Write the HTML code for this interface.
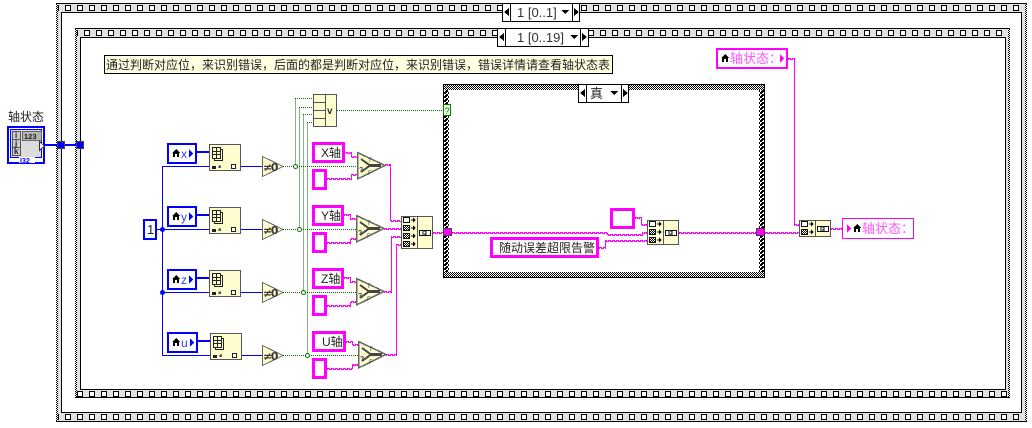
<!DOCTYPE html>
<html><head><meta charset="utf-8"><style>
html,body{margin:0;padding:0;background:#fff;width:1032px;height:428px;overflow:hidden}
svg{display:block}
text{font-family:"Liberation Sans","Noto Sans CJK SC",sans-serif;fill:#222}
</style></head><body>
<svg width="1032" height="428" viewBox="0 0 1032 428" xmlns="http://www.w3.org/2000/svg" shape-rendering="crispEdges">
<defs>
<pattern id="ck" width="2" height="2" patternUnits="userSpaceOnUse"><rect width="2" height="2" fill="#fff"/><rect width="1" height="1" fill="#000"/><rect x="1" y="1" width="1" height="1" fill="#000"/></pattern>
<pattern id="ck2" width="4" height="4" patternUnits="userSpaceOnUse"><rect width="4" height="4" fill="#fff"/><rect width="2" height="2" fill="#000"/><rect x="2" y="2" width="2" height="2" fill="#000"/><rect x="2" width="1" height="1" fill="#000"/><rect y="3" x="1" width="1" height="1" fill="#000"/></pattern>
<pattern id="sp1" x="65" y="4" width="12" height="8" patternUnits="userSpaceOnUse"><rect width="12" height="8" fill="#e2e2e2"/><rect x=".5" y="1.5" width="5" height="5" fill="#fff" stroke="#000"/></pattern>
<pattern id="sp2" x="84" y="29" width="12" height="8" patternUnits="userSpaceOnUse"><rect width="12" height="8" fill="#e2e2e2"/><rect x=".5" y="1.5" width="5" height="5" fill="#fff" stroke="#000"/></pattern>
<pattern id="sp3" x="65" y="390" width="12" height="8" patternUnits="userSpaceOnUse"><rect width="12" height="8" fill="#e2e2e2"/><rect x=".5" y="1.5" width="5" height="5" fill="#fff" stroke="#000"/></pattern>
<pattern id="sp4" x="65" y="413" width="12" height="9" patternUnits="userSpaceOnUse"><rect width="12" height="9" fill="#e2e2e2"/><rect x=".5" y="1.5" width="5" height="5" fill="#fff" stroke="#000"/></pattern>

<g id="home"><path d="M4 0 L8 4 H7 V8 H5 V5 H3 V8 H1 V4 H0 Z" fill="#000"/></g>

<g id="prop">
<rect x=".5" y=".5" width="31" height="26" fill="#fdfdd0" stroke="#555"/>
<g fill="none" stroke="#222"><rect x="5.500" y="5.500" width="8" height="11" fill="#fdfdd0"/><rect x="3.500" y="3.500" width="8" height="11" fill="#fdfdd0"/><path d="M3.500 7.500H11.500M3.500 10.500H11.500M7.500 3.500V14.500"/></g>
<rect x="3" y="22" width="4" height="3" fill="#222"/><path d="M9 23h3M11 21v3" stroke="#222" fill="none"/>
<rect x="22.500" y="20.500" width="4" height="4" fill="#fff" stroke="#222"/>
</g>

<g id="ne0">
<polygon points=".5,.5 21,10.500 .5,20.500" fill="#fdfdd0" stroke="#666"/>
<text x="1" y="15" font-size="11" font-weight="bold" letter-spacing="-1.500" style="font-family:'DejaVu Sans',sans-serif;fill:#3a3a30">&#8800;0</text>
</g>

<g id="sel">
<polygon points=".5,.5 28,13.500 .5,27" fill="#fdfdd0" stroke="#666" stroke-width="1.500"/>
<path d="M4 7 L13 13.500 L4 20" fill="none" stroke="#444" stroke-width="2" shape-rendering="auto"/>
<path d="M13 13.500H24" stroke="#444" stroke-width="3"/>
<text x="2" y="20" font-size="7" font-weight="bold" style="fill:#444">?</text>
<text x="11" y="10" font-size="6" style="fill:#444">T</text>
<text x="11" y="23" font-size="6" style="fill:#444">F</text>
</g>

<g id="row0"><rect x=".5" y="-2.500" width="6" height="5" fill="#fff" stroke="#111"/><path d="M8 0h3" stroke="#111"/><path d="M10 -2.500L13 0L10 2.500Z" fill="#111"/></g>
<g id="row"><rect x=".5" y="-2.500" width="6" height="5" fill="url(#ck)" stroke="#111"/><path d="M8 0h3" stroke="#111"/><path d="M10 -2.500L13 0L10 2.500Z" fill="#111"/></g>
<g id="out"><rect x=".5" y=".5" width="11" height="5" fill="#fff" stroke="#111"/><path d="M4 1v4M7 1v4M5 1h2M5 4h2" stroke="#111"/></g>

<g id="tri-l"><path d="M5 -4V4L0 0Z" fill="#000"/></g>
<g id="tri-r"><path d="M0 -4V4L5 0Z" fill="#000"/></g>
<g id="tri-d"><path d="M-4 0H4L0 4Z" fill="#000"/></g>

<g id="wpaths">
<path d="M345.500 152.500H351.500V156.500H357M327 178.500H351.500V174.500H357M385 164.500H390.500V220.500H401"/>
<path d="M344 214.500H350.500V218.500H356M327 242.500H350.500V238.500H356M384 228.500H401"/>
<path d="M344 277.500H350.500V281.500H356M327 305.500H350.500V301.500H356M384 291.500H391.500V236.500H401"/>
<path d="M346 341.500H352.500V344.500H358M327 368.500H352.500V364.500H358M386 354.500H396.500V244.500H401"/>
<path d="M433 232.500H443M452 232.500H607.500V234.500H642.500V232.500H647M635 217.500H641.500V224.500H647M599 247.500H605.500V240.500H647M679 232.500H756M765 232.500H799M788 58.500H794.500V224.500H799M831 228.500H842"/>
</g>
</defs>

<rect width="1032" height="428" fill="#fff"/>

<!-- outer frame -->
<rect x="56" y="3" width="971" height="419" fill="#e2e2e2"/>
<rect x="56" y="3" width="2" height="419" fill="url(#ck)"/>
<rect x="1025" y="3" width="2" height="419" fill="url(#ck)"/>
<rect x="56" y="3" width="971" height="1" fill="#000"/>
<rect x="56" y="421" width="971" height="1" fill="#000"/>
<rect x="58" y="4" width="967" height="8" fill="url(#sp1)"/>
<rect x="58" y="413" width="967" height="8" fill="url(#sp4)"/>
<rect x="61" y="12" width="961" height="401" fill="#000"/>
<rect x="62" y="13" width="959" height="399" fill="#fff"/>

<!-- inner frame -->
<rect x="75" y="28" width="935" height="370" fill="#e2e2e2"/>
<rect x="75" y="28" width="2" height="370" fill="url(#ck)"/>
<rect x="1008" y="28" width="2" height="370" fill="url(#ck)"/>
<rect x="75" y="28" width="935" height="1" fill="#000"/>
<rect x="75" y="397" width="935" height="1" fill="#000"/>
<rect x="77" y="29" width="931" height="8" fill="url(#sp2)"/>
<rect x="77" y="390" width="931" height="7" fill="url(#sp3)"/>
<rect x="80" y="37" width="926" height="353" fill="#000"/>
<rect x="81" y="38" width="924" height="351" fill="#fff"/>

<!-- selectors -->
<g fill="#fff" stroke="#000">
<rect x="502.500" y="3.500" width="77" height="18"/><path d="M510.500 3.500V21.500M572.500 3.500V21.500" fill="none"/>
<rect x="497.500" y="28.500" width="91" height="18"/><path d="M505.500 28.500V46.500M580.500 28.500V46.500" fill="none"/>
</g>
<use href="#tri-l" x="504" y="12"/><use href="#tri-r" x="574" y="12"/><use href="#tri-d" x="565" y="10"/>
<use href="#tri-l" x="499" y="37"/><use href="#tri-r" x="582" y="37"/><use href="#tri-d" x="574" y="35"/>
<text x="517" y="17" font-size="13" style="fill:#333">1 [0..1]</text>
<text x="517" y="42" font-size="13" style="fill:#333">1 [0..19]</text>

<!-- comment -->
<rect x="104.500" y="55.500" width="508" height="18" fill="#ffffe1" stroke="#000"/>
<text x="106" y="69" font-size="12">通过判断对应位&#xFF0C;来识别错误&#xFF0C;后面的都是判断对应位&#xFF0C;来识别错误&#xFF0C;错误详情请查看轴状态表</text>

<!-- case structure -->
<rect x="443" y="84" width="322" height="194" fill="#000"/>
<rect x="444" y="85" width="320" height="192" fill="url(#ck)"/>
<rect x="444" y="90" width="5" height="182" fill="url(#ck2)"/>
<rect x="759" y="90" width="5" height="182" fill="url(#ck2)"/>
<rect x="449" y="90" width="310" height="182" fill="#fff"/>
<rect x="578.500" y="84.500" width="50" height="18" fill="#fff" stroke="#000"/><path d="M586.500 84.500V102.500M621.500 84.500V102.500" stroke="#000"/>
<use href="#tri-l" x="580" y="93"/><use href="#tri-r" x="623" y="93"/><use href="#tri-d" x="614" y="91"/>
<text x="590" y="98" font-size="13">真</text>

<!-- control terminal -->
<text x="8" y="121" font-size="12">轴状态</text>
<rect x="8" y="127" width="36" height="36" fill="#fff" stroke="#0000ff" stroke-width="2"/>
<rect x="10.500" y="129.500" width="31" height="28" fill="#dcdcdc" stroke="#0000ff"/>
<rect x="12.500" y="131.500" width="8" height="24" fill="#ccc" stroke="#555"/>
<path d="M12.500 139.500h8M12.500 147.500h8" stroke="#555"/>
<rect x="22.500" y="131.500" width="19" height="9" fill="#b4b4b4" stroke="#666"/>
<text x="24" y="139" font-size="7.500" font-weight="bold" style="fill:#222">123</text>
<text x="15" y="138" font-size="8" font-weight="bold">i</text><text x="15" y="146" font-size="8" font-weight="bold">j</text><text x="14" y="154" font-size="8" font-weight="bold">k</text>
<rect x="19" y="157" width="16" height="6" fill="#fff"/>
<text x="20" y="163" font-size="7" font-weight="bold" style="fill:#0000ff">I32</text>
<path d="M39.500 141.500V150.500L44.500 146Z" fill="#fff" stroke="#333"/>

<!-- blue wires -->
<path d="M44 145H80" stroke="#0000ff" stroke-width="2" fill="none"/>
<rect x="57.500" y="141.500" width="7" height="7" fill="#0000ff" stroke="#444"/>
<rect x="76.500" y="141.500" width="7" height="7" fill="#0000ff" stroke="#444"/>
<g stroke="#0000ff" fill="none">
<path d="M162.500 166.500V355.500"/>
<path d="M162 166.500H209M241 166.500H262M157 229.500H209M241 229.500H262M162 292.500H209M241 292.500H262M162 355.500H210M242 355.500H262"/>
</g>
<g stroke="#0000ff" stroke-width="2"><path d="M197 152H209M197 215H209M197 278H209M198 341H210"/></g>
<rect x="160" y="227" width="5" height="5" rx="2.500" fill="#0000ff" shape-rendering="auto"/>
<rect x="160" y="290" width="5" height="5" rx="2.500" fill="#0000ff" shape-rendering="auto"/>

<!-- constant 1 -->
<rect x="144" y="220" width="12" height="19" fill="#fff" stroke="#0000ff" stroke-width="2"/>
<text x="147" y="234" font-size="13" style="fill:#124">1</text>

<!-- local vars blue -->
<g fill="#fff" stroke="#0000ff" stroke-width="2">
<rect x="168" y="144" width="28" height="19"/>
<rect x="168" y="207" width="28" height="19"/>
<rect x="168" y="270" width="28" height="19"/>
<rect x="168" y="333" width="29" height="19"/>
</g>
<use href="#home" x="172" y="149"/><use href="#home" x="172" y="212"/><use href="#home" x="172" y="275"/><use href="#home" x="172" y="338"/>
<g font-size="12"><text x="181" y="158" style="fill:#3344ee">x</text><text x="181" y="221" style="fill:#3344ee">y</text><text x="181" y="284" style="fill:#3344ee">z</text><text x="181" y="347" style="fill:#3344ee">u</text></g>
<g fill="#0000ff"><path d="M189 149V158L193 153.500Z"/><path d="M189 212V221L193 216.500Z"/><path d="M189 275V284L193 279.500Z"/><path d="M190 338V347L194 342.500Z"/></g>

<!-- property nodes -->
<use href="#prop" x="209" y="144"/><use href="#prop" x="209" y="207"/><use href="#prop" x="209" y="270"/><use href="#prop" x="210" y="333"/>
<use href="#ne0" x="262" y="156"/><use href="#ne0" x="262" y="219"/><use href="#ne0" x="262" y="282"/><use href="#ne0" x="262" y="345"/>

<!-- green wires -->
<g stroke="#006e00" fill="none" stroke-dasharray="1 1">
<path d="M295.500 98.500V166M299.500 107.500V229M303.500 114.500V292M307.500 122.500V355"/>
<path d="M295 98.500H313M299 107.500H313M303 114.500H313M307 122.500H313"/>
<path d="M283 166.500H357M283 229.500H356M283 292.500H356M283 355.500H358"/>
<path d="M337 110.500H443"/>
</g>
<g fill="#fff" stroke="#006e00" shape-rendering="auto">
<circle cx="295.500" cy="166.500" r="2"/><circle cx="299.500" cy="229.500" r="2"/><circle cx="303.500" cy="292.500" r="2"/><circle cx="307.500" cy="355.500" r="2"/>
</g>

<!-- compound or -->
<rect x="313.500" y="94.500" width="23" height="32" fill="#fdfdd0" stroke="#555"/>
<path d="M325.500 94.500V126.500M313.500 102.500H325.500M313.500 110.500H325.500M313.500 118.500H325.500" stroke="#555"/>
<text x="327" y="114" font-size="10" font-weight="bold" style="fill:#333">v</text>
<rect x="443.500" y="104.500" width="7" height="11" fill="#e8ffd8" stroke="#007a00"/>
<text x="444.500" y="114" font-size="9" style="fill:#007a00">?</text>

<!-- pink wires -->
<g stroke="#ff00ff" fill="none" stroke-dasharray="3 1">
<use href="#wpaths"/>
<use href="#wpaths" x="0" y="1" stroke-dashoffset="2"/>
</g>

<!-- string constants -->
<g fill="#fff" stroke="#ff00ff" stroke-width="3">
<rect x="313.500" y="143.500" width="30" height="18"/><rect x="313.500" y="170.500" width="12" height="18"/>
<rect x="313.500" y="206.500" width="29" height="18"/><rect x="313.500" y="233.500" width="12" height="18"/>
<rect x="313.500" y="269.500" width="29" height="18"/><rect x="313.500" y="296.500" width="12" height="18"/>
<rect x="313.500" y="332.500" width="31" height="18"/><rect x="313.500" y="359.500" width="12" height="18"/>
<rect x="611.500" y="209.500" width="22" height="18"/>
<rect x="491.500" y="238.500" width="106" height="18"/>
</g>
<g font-size="12">
<text x="321" y="157">X轴</text><text x="321" y="220">Y轴</text><text x="321" y="283">Z轴</text><text x="322" y="346">U轴</text>
<text x="499" y="252">随动误差超限告警</text>
</g>

<!-- selects -->
<use href="#sel" x="357" y="152"/><use href="#sel" x="356" y="215"/><use href="#sel" x="356" y="278"/><use href="#sel" x="358" y="341"/>

<!-- build arrays -->
<rect x="401.500" y="216.500" width="31" height="32" fill="#fdfdd0" stroke="#555"/><path d="M417.500 216.500V248.500" stroke="#555"/>
<use href="#row0" x="403" y="220"/><use href="#row" x="403" y="228"/><use href="#row" x="403" y="236"/><use href="#row" x="403" y="244"/><use href="#out" x="419" y="230"/>
<rect x="647.500" y="220.500" width="31" height="24" fill="#fdfdd0" stroke="#555"/><path d="M663.500 220.500V244.500" stroke="#555"/>
<use href="#row0" x="649" y="224"/><use href="#row" x="649" y="232"/><use href="#row" x="649" y="240"/><use href="#out" x="665" y="230"/>
<rect x="799.500" y="220.500" width="31" height="16" fill="#fdfdd0" stroke="#555"/><path d="M815.500 220.500V236.500" stroke="#555"/>
<use href="#row0" x="801" y="224"/><use href="#row" x="801" y="232"/><use href="#out" x="817" y="226"/>

<!-- tunnels -->
<rect x="443.500" y="228.500" width="8" height="7" fill="#ff00ff" stroke="#444"/>
<rect x="756.500" y="228.500" width="8" height="7" fill="#ff00ff" stroke="#444"/>

<!-- local var pink -->
<rect x="717" y="49" width="70" height="19" fill="#fff" stroke="#ff00ff" stroke-width="2"/>
<use href="#home" x="721" y="54"/>
<text x="730" y="63" font-size="13" style="fill:#ff55ff">轴状态&#xFF1A;</text>
<path d="M780 54V63L784 58.500Z" fill="#ff00ff"/>
<rect x="842.500" y="218.500" width="71" height="20" fill="#fff" stroke="#ff00ff"/>
<path d="M847 224V233L851 228.500Z" fill="#ff00ff"/>
<use href="#home" x="853" y="224"/>
<text x="862" y="233" font-size="13" style="fill:#ff55ff">轴状态&#xFF1A;</text>
</svg>
</body></html>
